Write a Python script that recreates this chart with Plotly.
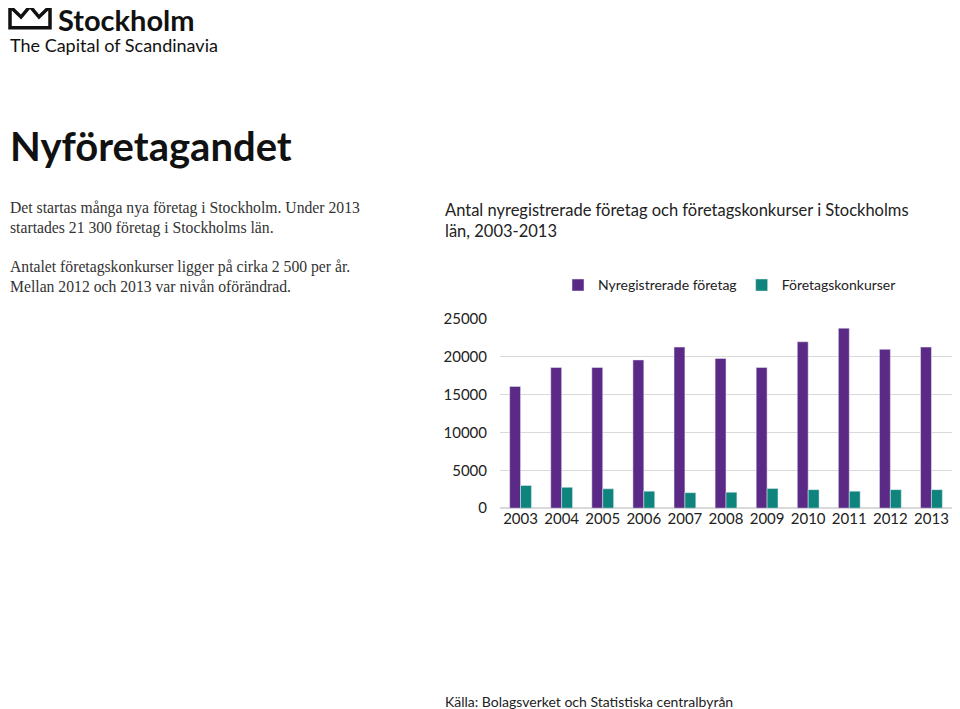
import plotly.graph_objects as go

years = [str(y) for y in range(2003, 2014)]
nyreg = [16100, 18600, 18600, 19600, 21300, 19800, 18600, 22000, 23800, 21000, 21300]
konkurs = [3000, 2750, 2550, 2250, 2050, 2100, 2600, 2450, 2250, 2450, 2450]
yticks = [0, 5000, 10000, 15000, 20000, 25000]

W, H = 944, 705
OX, OY = 8, 4
def py(p): return 1 - (p - OY) / H
def px(p): return min(1.0, max(0.0, (p - OX) / W))

fig = go.Figure()
fig.add_bar(x=years, y=nyreg, name="Nyregistrerade företag", marker_color="#5B2A86")
fig.add_bar(x=years, y=konkurs, name="Företagskonkurser", marker_color="#0E847C")

fig.update_layout(
    width=W, height=H, margin=dict(l=0, r=0, t=0, b=0),
    paper_bgcolor="white", plot_bgcolor="white",
    barmode="group", bargap=0.47, bargroupgap=0.0,
    font=dict(family="Lato, sans-serif", color="#222", size=15),
    xaxis=dict(domain=[px(500), px(954)], showline=False, tickfont=dict(size=15), ticks=""),
    yaxis=dict(domain=[py(507), py(313)], range=[0, 25000], tickvals=yticks,
               ticktext=[str(v) for v in yticks], showgrid=True, gridcolor="#d9d9d9",
               zeroline=True, zerolinecolor="#d9d9d9", ticklabelstandoff=12, tickfont=dict(size=15)),
    legend=dict(orientation="h", x=px(558), y=py(262), xanchor="left", yanchor="top",
                font=dict(size=14), itemwidth=30),
)

ann = [
    dict(x=px(56), y=py(6), text="<b>Stockholm</b>", size=29, family="Lato, sans-serif", color="#111"),
    dict(x=px(8), y=py(32), text="The Capital of Scandinavia", size=18, family="Lato, sans-serif", color="#111"),
    dict(x=px(8), y=py(135), text="<b>Nyföretagandet</b>", size=40, family="Lato, sans-serif", color="#111"),
    dict(x=px(8), y=py(209), text="Det startas många nya företag i Stockholm. Under 2013<br>startades 21 300 företag i Stockholms län.", size=15.7, family="Liberation Serif, serif", color="#333"),
    dict(x=px(8), y=py(269), text="Antalet företagskonkurser ligger på cirka 2 500 per år.<br>Mellan 2012 och 2013 var nivån oförändrad.", size=15.7, family="Liberation Serif, serif", color="#333"),
    dict(x=px(443), y=py(212), text="Antal nyregistrerade företag och företagskonkurser i Stockholms<br>län, 2003-2013", size=16.5, family="Lato, sans-serif", color="#222"),
    dict(x=px(443), y=py(705), text="Källa: Bolagsverket och Statistiska centralbyrån", size=14, family="Lato, sans-serif", color="#222"),
]
for a in ann:
    fig.add_annotation(xref="paper", yref="paper", x=a["x"], y=a["y"], xanchor="left", yanchor="middle",
                       text=a["text"], showarrow=False, align="left",
                       font=dict(size=a["size"], family=a["family"], color=a["color"]))

fig.add_shape(type="path", xref="paper", yref="paper",
              path=f"M {px(10)},{py(-8)} L {px(10)},{py(14)} L {px(50)},{py(14)} L {px(50)},{py(-8)} L {px(39)},{py(3)} L {px(30)},{py(-8)} L {px(21)},{py(3)} Z",
              line=dict(color="#111", width=3.5), fillcolor="rgba(0,0,0,0)")

fig.write_html("out.html")
